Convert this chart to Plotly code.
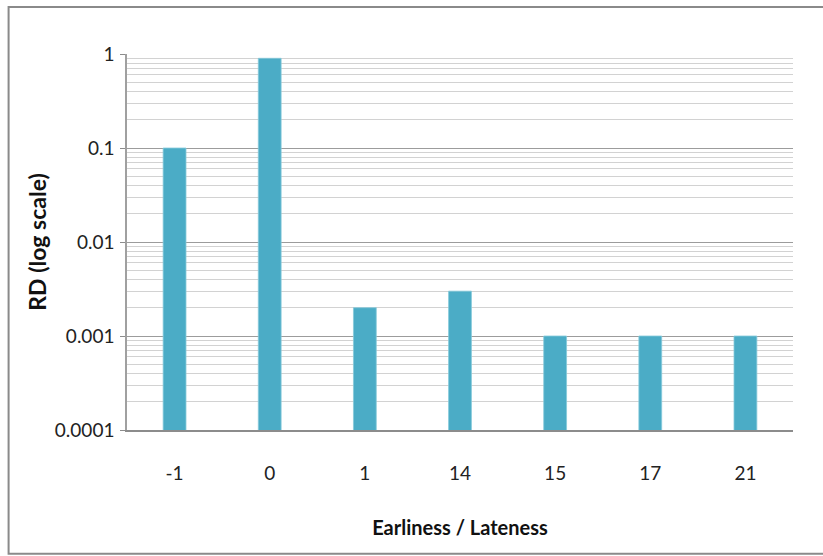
import plotly.graph_objects as go

# Earliness / lateness offsets and their RD values
categories = ["-1", "0", "1", "14", "15", "17", "21"]
rd_values = [0.1, 0.9, 0.002, 0.003, 0.001, 0.001, 0.001]

# Decade tick positions and labels for the log axis
tick_vals = [0.0001, 0.001, 0.01, 0.1, 1]
tick_text = ["0.0001", "0.001", "0.01", "0.1", "1"]

W, H = 823, 556
L, R, T, B = 126.5, 30, 53.5, 126

fig = go.Figure(
    go.Bar(
        x=categories,
        y=rd_values,
        marker=dict(color="#4BACC6", line=dict(color="#86cadb", width=0.8)),
        width=0.24,
    )
)

font_family = "Lato, 'Open Sans', sans-serif"

fig.update_layout(
    width=W,
    height=H,
    margin=dict(l=L, r=R, t=T, b=B, pad=0),
    paper_bgcolor="white",
    plot_bgcolor="white",
    showlegend=False,
    font=dict(family=font_family, color="#222222"),
)

fig.update_xaxes(
    type="category",
    showgrid=False,
    showline=True,
    linecolor="#8c8c8c",
    linewidth=1.5,
    ticks="",
    tickfont=dict(size=19, color="#222222"),
    ticklabelstandoff=25,
    title=dict(
        text="<b>Earliness / Lateness</b>",
        font=dict(size=20, color="#111111"),
        standoff=38,
    ),
)

fig.update_yaxes(
    type="log",
    range=[-4, 0],
    tickvals=tick_vals,
    ticktext=tick_text,
    showgrid=True,
    gridcolor="#9c9c9c",
    gridwidth=1.3,
    showline=True,
    linecolor="#a0a0a0",
    linewidth=1.5,
    ticks="outside",
    ticklen=5,
    tickcolor="#8c8c8c",
    tickwidth=1.3,
    tickfont=dict(size=19, color="#222222"),
    ticklabelstandoff=2,
    minor=dict(dtick="D1", showgrid=True, gridcolor="#d2d2d2", gridwidth=1.2, ticks=""),
    zeroline=False,
    title=dict(
        text="<b>RD (log scale)</b>",
        font=dict(size=23, color="#111111"),
        standoff=2,
    ),
)

# Outer chart frame
pw = W - L - R
ph = H - T - B
x0 = (8 - L) / pw
x1 = (830 - L) / pw
y_top = 1 + (T - 6.5) / ph
y_bot = -(554 - (H - B)) / ph
fig.add_shape(
    type="rect",
    xref="paper",
    yref="paper",
    x0=x0,
    x1=x1,
    y0=y_bot,
    y1=y_top,
    line=dict(color="#8a8a8a", width=2),
    fillcolor="rgba(0,0,0,0)",
    layer="below",
)

fig.write_html("out.html")
